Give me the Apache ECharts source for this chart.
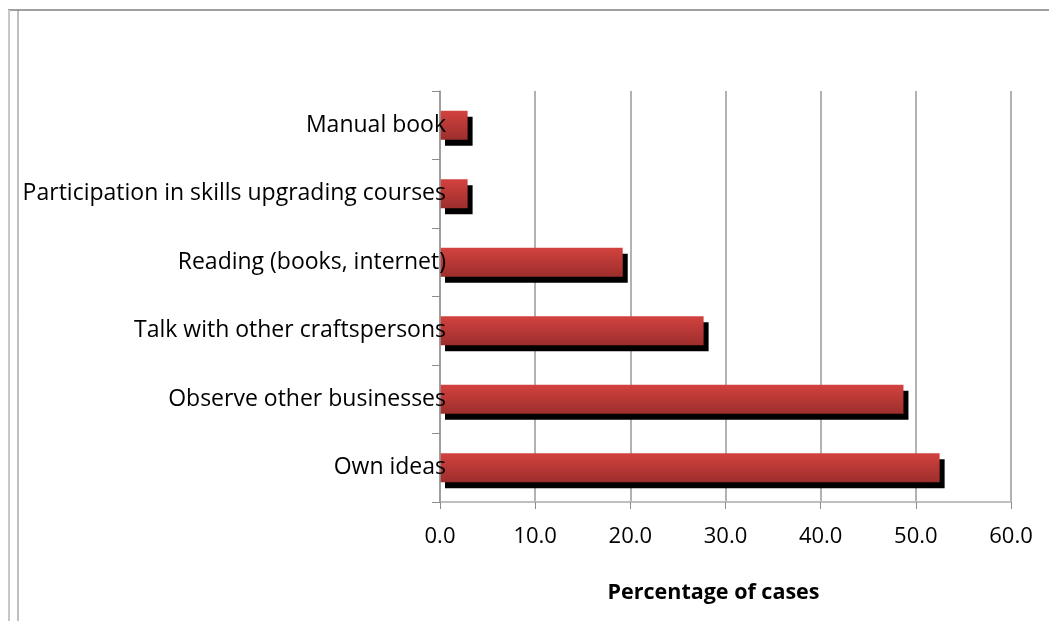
<!DOCTYPE html>
<html>
<head>
<meta charset="utf-8">
<script src="https://cdn.jsdelivr.net/npm/echarts@6/dist/echarts.min.js"></script>
<style>
html,body{margin:0;padding:0;background:#fff;}
#main{width:1049px;height:621px;}
</style>
</head>
<body>
<div id="main"></div>
<script>
// categories bottom to top
var categories = ['Own ideas', 'Observe other businesses', 'Talk with other craftspersons',
	'Reading (books, internet)', 'Participation in skills upgrading courses', 'Manual book'];
var percentages = [52.5, 48.7, 27.7, 19.2, 2.9, 2.9];
var tickLabels = ['0.0', '10.0', '20.0', '30.0', '40.0', '50.0', '60.0'];

var myChart = echarts.init(document.getElementById('main'));
var option = {
	animation: false,
	textStyle: { fontFamily: 'Open Sans' },
	grid: { left: 440, right: 38, top: 91, bottom: 119 },
	graphic: [
		{ type: 'line', shape: { x1: 8, y1: 10, x2: 1049, y2: 10 }, style: { stroke: '#a0a0a0', lineWidth: 2 } },
		{ type: 'line', shape: { x1: 9, y1: 10, x2: 9, y2: 621 }, style: { stroke: '#c8c8c8', lineWidth: 2 } },
		{ type: 'line', shape: { x1: 18, y1: 10, x2: 18, y2: 621 }, style: { stroke: '#808080', lineWidth: 1 } }
	],
	xAxis: {
		type: 'value',
		min: 0, max: 60, interval: 10,
		name: 'Percentage of cases',
		nameLocation: 'middle',
		nameGap: 80,
		nameTextStyle: { fontSize: 21.5, fontWeight: 'bold', color: '#000', fontFamily: 'Open Sans', padding: [0, 24, 0, 0] },
		axisLine: { show: true, lineStyle: { color: '#bfbfbf', width: 2 } },
		axisTick: { show: true, length: 7, lineStyle: { color: '#8c8c8c' } },
		axisLabel: {
			fontSize: 22, color: '#000', margin: 24,
			formatter: function (v) { return tickLabels[v / 10]; }
		},
		splitLine: { show: true, lineStyle: { color: '#999', width: 1.5 } }
	},
	yAxis: {
		type: 'category',
		data: categories,
		z: 5,
		axisLine: { show: true, lineStyle: { color: '#999', width: 1.5 } },
		axisTick: { show: true, length: 8, lineStyle: { color: '#8c8c8c' } },
		axisLabel: { fontSize: 23, color: '#000', margin: -6 }
	},
	series: [{
		type: 'bar',
		data: percentages,
		barWidth: 29,
		z: 1,
		itemStyle: {
			color: new echarts.graphic.LinearGradient(0, 0, 0, 1, [
				{ offset: 0, color: '#d3423f' },
				{ offset: 1, color: '#9c2e2c' }
			]),
			shadowColor: '#000',
			shadowBlur: 0,
			shadowOffsetX: 5,
			shadowOffsetY: 6
		}
	}]
};
myChart.setOption(option);
</script>
</body>
</html>
